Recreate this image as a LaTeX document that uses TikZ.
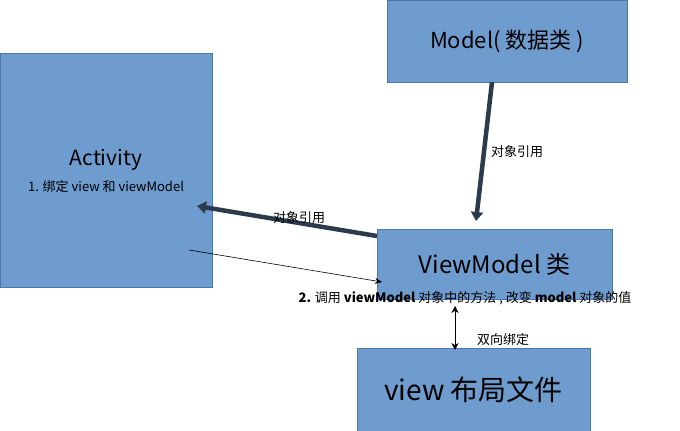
\documentclass[tikz,border=0pt]{standalone}
\usepackage{fontspec}
\setmainfont{Noto Sans CJK SC}
\usetikzlibrary{arrows.meta}
\begin{document}
\begin{tikzpicture}[x=1pt,y=-1pt,
  box/.style={draw=boxb,fill=boxf,line width=0.8pt,inner sep=0pt},
  heavy/.style={draw=dark,line width=4.5pt,-{Triangle[length=9pt,width=12pt]}},
  lbl/.style={font=\fontsize{13}{15}\selectfont,inner sep=1pt}]
\definecolor{boxf}{HTML}{6F9CCE}
\definecolor{boxb}{HTML}{4A78AE}
\definecolor{dark}{HTML}{2B3A4C}
\definecolor{thin}{HTML}{3D6BA8}
\useasboundingbox (0,0) rectangle (680,431);
\node[box,minimum width=212pt,minimum height=234pt] (act) at (106,170) {};
\node[font=\fontsize{21}{24}\selectfont] (actt) at (106,160) {Activity};
\node[lbl] (actl) at (106,187) {1. 绑定 view 和 viewModel};
\node[box,minimum width=240pt,minimum height=82pt,font=\fontsize{22}{26}\selectfont] (model) at (507,41) {Model( 数据类 )};
\node[box,minimum width=235pt,minimum height=70pt,font=\fontsize{24}{28}\selectfont] (vm) at (494.5,264) {ViewModel 类};
\node[box,minimum width=233pt,minimum height=83pt,font=\fontsize{28}{32}\selectfont] (view) at (473.5,389.5) {view 布局文件};
\coordinate (m1) at (492,82); \coordinate (m2) at (476,221);
\draw[heavy] (m1) -- (m2);
\node[lbl] (r1) at (517,152) {对象引用};
\coordinate (v1) at (377,236); \coordinate (a1) at (197,206);
\draw[heavy] (v1) -- (a1);
\node[lbl] (r2) at (299,218) {对象引用};
\coordinate (t1) at (189,250); \coordinate (t2) at (382,282);
\draw[thin,line width=0.6pt,-{Stealth[length=7pt,width=6pt]}] (t1) -- (t2);
\node[lbl] (call) at (465,298) {\textbf{2.} 调用 \textbf{viewModel} 对象中的方法 , 改变 \textbf{model} 对象的值};
\coordinate (d1) at (455,306); \coordinate (d2) at (455,350);
\draw[thin,line width=0.8pt,{Stealth[length=7pt,width=7pt]}-{Stealth[length=7pt,width=7pt]}] (d1) -- (d2);
\node[lbl] (bind) at (503,340) {双向绑定};
\end{tikzpicture}
\end{document}
